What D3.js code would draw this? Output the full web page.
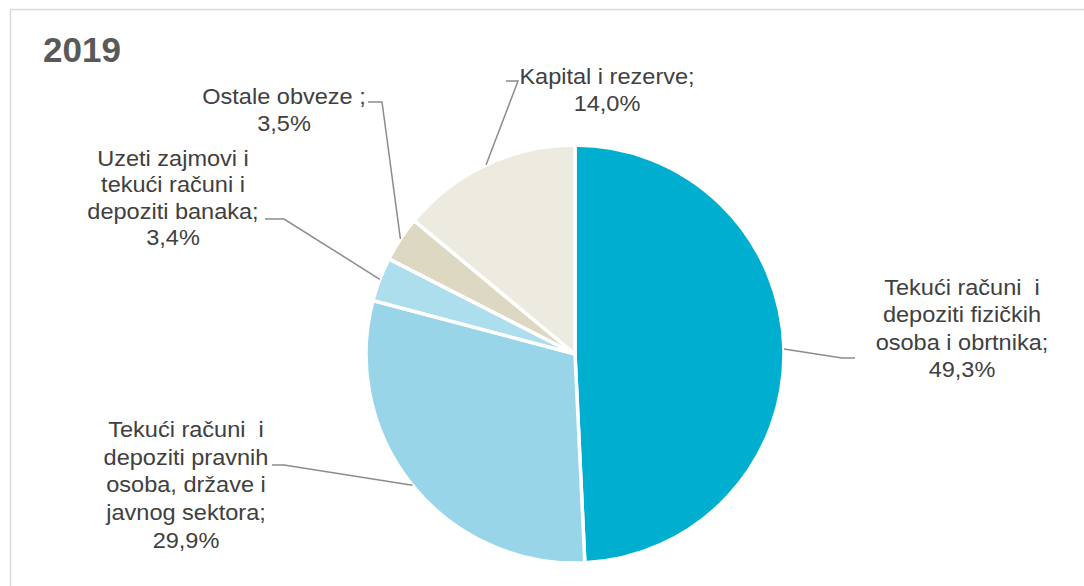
<!DOCTYPE html>
<html><head><meta charset="utf-8">
<script src="https://cdn.jsdelivr.net/npm/d3@7"></script>
<style>body{margin:0;background:#fff;}svg{display:block;font-family:"Liberation Sans",Arial,sans-serif;}text{white-space:pre;}</style>
</head><body>
<svg id="c" width="1084" height="586"></svg>
<script>
const title = "2019";
const categories = [
  ["Tekući računi  i","depoziti fizičkih","osoba i obrtnika;"],
  ["Tekući računi  i","depoziti pravnih","osoba, države i","javnog sektora;"],
  ["Uzeti zajmovi i","tekući računi i","depoziti banaka;"],
  ["Ostale obveze ;"],
  ["Kapital i rezerve;"]
];
const values = [49.3, 29.9, 3.4, 3.5, 14.0];
const valueLabels = ["49,3%","29,9%","3,4%","3,5%","14,0%"];
const colors = ["#00aecf","#98d5e8","#acdeed","#dcd8c2","#edebe0"];

// label layout: text centre x, first baseline y, line step, leader tail [xEnd,xBend,y]
const labelLayout = [
  {x:962, y:295, step:27.5, tail:[855,842,358]},
  {x:186, y:437, step:27.7, tail:[272,284,465]},
  {x:173, y:166, step:26.5, tail:[265,284,219]},
  {x:284, y:104, step:27, tail:[368,382,102]},
  {x:607, y:84,  step:27, tail:[506,518,81]}
];

const svg = d3.select("#c");
svg.append("rect").attr("x",10.5).attr("y",9.5).attr("width",1100).attr("height",600)
  .attr("fill","#fff").attr("stroke","#d9d9d9").attr("stroke-width",1.5);

svg.append("text").attr("x",43).attr("y",62).attr("font-size",35).attr("font-weight","bold")
  .attr("fill","#595959").text(title);

const cx = 575, cy = 354, r = 209;
const pie = d3.pie().sort(null).value(d=>d)(values);
const arc = d3.arc().innerRadius(0).outerRadius(r);
const g = svg.append("g").attr("transform",`translate(${cx},${cy})`);
g.selectAll("path").data(pie).join("path")
  .attr("d",arc).attr("fill",(d,i)=>colors[i])
  .attr("stroke","#fff").attr("stroke-width",3.5).attr("stroke-linejoin","round");

pie.forEach((d,i)=>{
  const a = (d.startAngle+d.endAngle)/2;
  const px = cx + r*Math.sin(a), py = cy - r*Math.cos(a);
  const L = labelLayout[i];
  svg.append("polyline")
    .attr("points",`${px},${py} ${L.tail[1]},${L.tail[2]} ${L.tail[0]},${L.tail[2]}`)
    .attr("fill","none").attr("stroke","#8c8c8c").attr("stroke-width",1.5);
  const lines = categories[i].concat([valueLabels[i]]);
  const t = svg.append("text").attr("text-anchor","middle").attr("font-size",22).attr("fill","#404040")
    .attr("transform",`translate(${L.x},${L.y}) scale(1.07,1)`);
  lines.forEach((s,j)=>{
    t.append("tspan").attr("x",0).attr("y",j*L.step).text(s);
  });
});
</script>
</body></html>
